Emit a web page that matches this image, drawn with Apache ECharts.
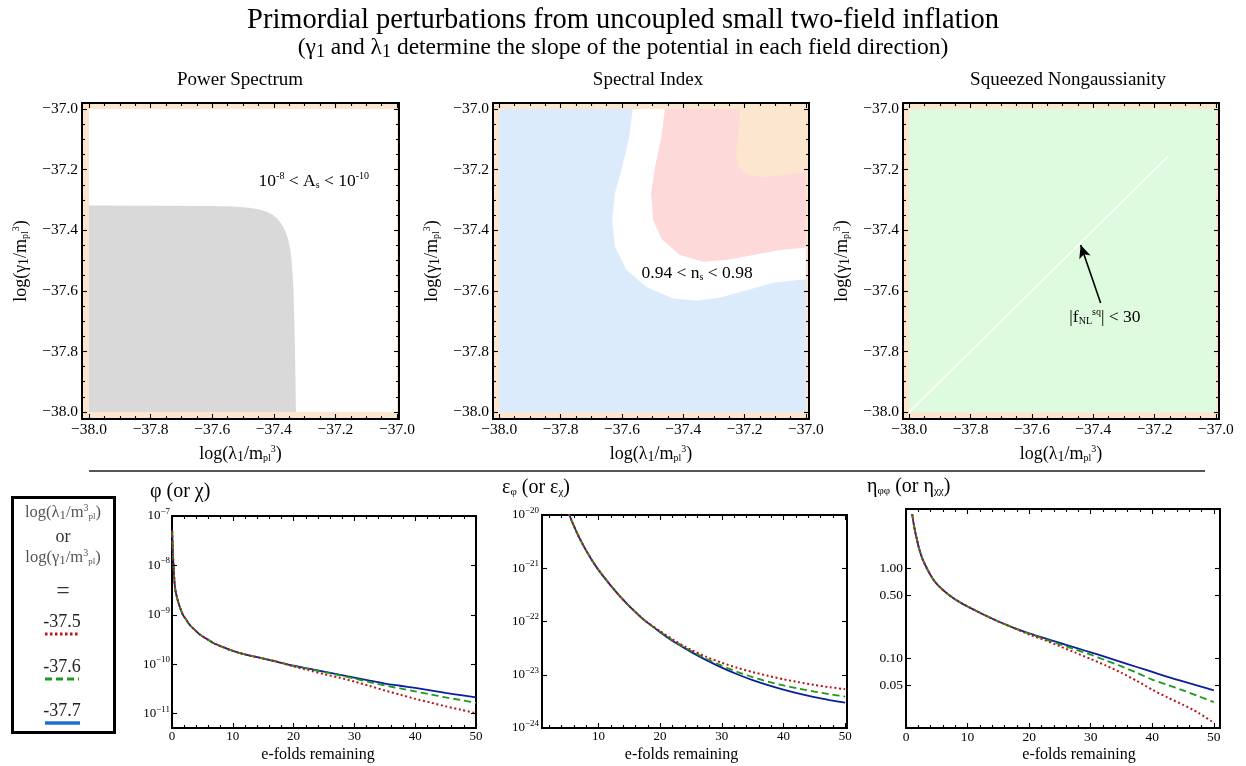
<!DOCTYPE html>
<html><head><meta charset="utf-8">
<script src="https://cdn.jsdelivr.net/npm/echarts@6/dist/echarts.min.js"></script>
<style>html,body{margin:0;padding:0;background:#fff}#c{width:1246px;height:766px}</style>
</head><body><div id="c"></div><script>
// ---------------- DATA ----------------
// top row: parameter plane log(lambda1/mpl^3) vs log(gamma1/mpl^3)
const topMajorTicks = [-38.0, -37.8, -37.6, -37.4, -37.2, -37.0];
const topMinorTicks = [-37.95,-37.9,-37.85,-37.75,-37.7,-37.65,-37.55,-37.5,-37.45,-37.35,-37.3,-37.25,-37.15,-37.1,-37.05];
const dataSquare = [[-38,-38],[-37,-38],[-37,-37],[-38,-37]];
// Power spectrum: excluded (grey) region boundary
const psExcluded = [[-38,-38],[-38,-37.318],[-37.75,-37.319],[-37.60,-37.320],[-37.53,-37.322],[-37.48,-37.326],[-37.45,-37.331],
  [-37.425,-37.338],[-37.405,-37.348],[-37.39,-37.36],[-37.378,-37.375],[-37.368,-37.392],[-37.36,-37.41],[-37.353,-37.432],
  [-37.347,-37.46],[-37.343,-37.49],[-37.34,-37.53],[-37.337,-37.58],[-37.335,-37.64],[-37.332,-37.75],[-37.33,-37.87],[-37.328,-38]];
// Spectral index: contour edges
const nsLowerEdge = [[-37.565,-37.0],[-37.576,-37.09],[-37.601,-37.2],[-37.623,-37.278],[-37.632,-37.366],[-37.623,-37.454],
  [-37.585,-37.531],[-37.52,-37.587],[-37.433,-37.625],[-37.356,-37.633],[-37.28,-37.622],[-37.193,-37.598],[-37.107,-37.573],[-37.0,-37.562]];
const nsUpperEdge = [[-37.46,-37.0],[-37.471,-37.09],[-37.492,-37.19],[-37.505,-37.278],[-37.498,-37.366],[-37.47,-37.43],
  [-37.411,-37.482],[-37.335,-37.504],[-37.259,-37.498],[-37.172,-37.482],[-37.085,-37.465],[-37.0,-37.457]];
const nsHighEdge = [[-37.215,-37.0],[-37.221,-37.09],[-37.228,-37.146],[-37.221,-37.19],[-37.193,-37.217],[-37.139,-37.225],
  [-37.063,-37.217],[-37.0,-37.208]];
// Squeezed non-gaussianity: allowed line and arrow
const fnlLine = [[-38,-38],[-37.155,-37.155]];
const fnlArrow = [[-37.376,-37.64],[-37.441,-37.449]];
const psLabelPos = [-37.27,-37.24], nsLabelPos = [-37.355,-37.541], fnlLabelPos = [-37.362,-37.688];

// bottom row: e-folds remaining vs log10(quantity)
const efoldTicks = [0,10,20,30,40,50];
const efoldMinor = [2,4,6,8,12,14,16,18,22,24,26,28,32,34,36,38,42,44,46,48];
const phiN = [0.03,0.15,0.3,0.44,0.6,0.8,1.0,1.4,1.8,2.4,2.9,3.7,4.6,5.6,6.8,8.3,10,12,14.5,17,20,22.5,25,27.5,30,32.5,35,37.5,40,42.5,45,47.5,50];
const phiLogBlue  = [-7.3,-7.75,-8.12,-8.38,-8.53,-8.64,-8.73,-8.88,-9.0,-9.11,-9.2,-9.3,-9.4,-9.48,-9.57,-9.65,-9.73,-9.8,-9.87,-9.94,
  -10.03,-10.09,-10.15,-10.21,-10.27,-10.33,-10.39,-10.435,-10.48,-10.53,-10.58,-10.625,-10.67];
const phiLogGreen = [-7.3,-7.75,-8.12,-8.38,-8.53,-8.64,-8.73,-8.88,-9.0,-9.11,-9.2,-9.3,-9.4,-9.48,-9.57,-9.65,-9.73,-9.8,-9.87,-9.94,
  -10.035,-10.095,-10.16,-10.22,-10.29,-10.36,-10.43,-10.49,-10.55,-10.61,-10.67,-10.725,-10.78];
const phiLogRed   = [-7.3,-7.75,-8.12,-8.38,-8.53,-8.64,-8.73,-8.88,-9.0,-9.11,-9.2,-9.3,-9.4,-9.48,-9.57,-9.65,-9.73,-9.8,-9.87,-9.94,
  -10.045,-10.12,-10.2,-10.27,-10.35,-10.44,-10.53,-10.615,-10.7,-10.775,-10.85,-10.92,-10.99];
const phiYTicks = [-7,-8,-9,-10,-11];

const epsN = [5.0,5.3,5.6,6,6.5,7,7.5,8,9,10,11,12,13.5,15,17.5,20,22.5,25,27.5,30,32.5,35,37.5,40,42.5,45,47.5,50];
const epsLogBlue  = [-19.9,-20.0,-20.09,-20.2,-20.33,-20.45,-20.56,-20.665,-20.86,-21.03,-21.18,-21.325,-21.527,-21.71,-21.98,
  -22.2,-22.4,-22.57,-22.725,-22.865,-22.99,-23.1,-23.195,-23.28,-23.355,-23.42,-23.475,-23.525];
const epsLogGreen = [-19.9,-20.0,-20.09,-20.2,-20.33,-20.45,-20.56,-20.665,-20.86,-21.03,-21.18,-21.325,-21.527,-21.71,-21.98,
  -22.19,-22.385,-22.55,-22.7,-22.83,-22.945,-23.045,-23.13,-23.2,-23.26,-23.315,-23.365,-23.41];
const epsLogRed   = [-19.9,-20.0,-20.09,-20.2,-20.33,-20.45,-20.56,-20.665,-20.86,-21.03,-21.18,-21.325,-21.527,-21.71,-21.98,
  -22.18,-22.37,-22.53,-22.665,-22.775,-22.87,-22.95,-23.02,-23.085,-23.14,-23.19,-23.235,-23.27];
const epsYTicks = [-20,-21,-22,-23,-24];
const epsXTicks = [10,20,30,40,50];
const epsXMinor = [2,4,6,8,12,14,16,18,22,24,26,28,32,34,36,38,42,44,46,48];

const etaN = [1.0,1.25,1.5,1.8,2.05,2.5,2.9,3.4,4.0,4.7,5.5,6.5,7.7,9,10,12,13.7,15,17.5,20,22.5,25,27.5,30,32.5,35,37.5,40,42.5,45,47.5,50];
const etaLogBlue  = [0.60,0.49,0.40,0.31,0.235,0.135,0.065,-0.005,-0.08,-0.152,-0.212,-0.273,-0.335,-0.39,-0.427,-0.497,-0.553,-0.594,-0.665,
  -0.725,-0.78,-0.833,-0.885,-0.937,-0.99,-1.045,-1.1,-1.155,-1.21,-1.26,-1.31,-1.36];
const etaLogGreen = [0.60,0.49,0.40,0.31,0.235,0.135,0.065,-0.005,-0.08,-0.152,-0.212,-0.273,-0.335,-0.39,-0.427,-0.497,-0.553,-0.594,-0.665,
  -0.73,-0.79,-0.848,-0.905,-0.963,-1.028,-1.093,-1.165,-1.24,-1.30,-1.36,-1.425,-1.49];
const etaLogRed   = [0.60,0.49,0.40,0.31,0.235,0.135,0.065,-0.005,-0.08,-0.152,-0.212,-0.273,-0.335,-0.39,-0.427,-0.497,-0.553,-0.594,-0.665,
  -0.74,-0.80,-0.87,-0.94,-1.011,-1.085,-1.165,-1.255,-1.352,-1.44,-1.52,-1.61,-1.72];
const etaTickValues = [1, 0.5, 0.1, 0.05];

const legendLabels = ['-37.5','-37.6','-37.7'];

// ---------------- STYLE ----------------
const SERIF = "'Liberation Serif', 'DejaVu Serif', serif";
const C_PEACH = '#fde6cf', C_PINK = '#fdd9d9', C_BLUE = '#dcebfb', C_GREEN = '#dffbdf', C_GRAY = '#d9d9d9';
const C_B = '#0c1f9c', C_G = '#1c9a1c', C_R = '#b8141a';

function richSet(base, fill) {
  fill = fill || '#000';
  return {
    s: {fontFamily: SERIF, fontSize: Math.round(base*0.78), color:fill, padding:[Math.round(base*0.35),0,0,0]},
    p: {fontFamily: SERIF, fontSize: Math.round(base*0.55), color:fill, padding:[Math.round(base*0.45),0,0,0]},
    u: {fontFamily: SERIF, fontSize: Math.round(base*0.58), color:fill, padding:[0,0,Math.round(base*0.6),0]}
  };
}

const grids = [
  {left:82,  top:103, width:317, height:316, backgroundColor:C_PEACH},
  {left:493, top:103, width:316, height:316, backgroundColor:C_PEACH},
  {left:903, top:103, width:316, height:316, backgroundColor:C_PEACH},
  {left:172, top:516, width:304, height:212, backgroundColor:'#fff'},
  {left:542, top:515, width:305, height:213, backgroundColor:'#fff'},
  {left:906, top:509, width:314, height:219, backgroundColor:'#fff'}
].map(g => Object.assign({show:true, borderColor:'#000', borderWidth:2, outerBoundsMode:'none', containLabel:false}, g));

const xAxes = [], yAxes = [];
function addAxes(g, c) {
  const common = {gridIndex:g, type:'value', axisLine:{show:false, onZero:false}, splitLine:{show:false}, z:10, silent:true, axisPointer:{show:false}};
  const res = {};
  [['x', xAxes, ['bottom','top']], ['y', yAxes, ['left','right']]].forEach(([d, arr, poss]) => {
    res[d] = arr.length;
    poss.forEach((pos, pi) => {
      [[c[d+'Major'], c.majorLen || 5, true], [c[d+'Minor'], c.minorLen || 3, false]].forEach(([vals, len, major]) => {
        if (!vals || !vals.length) return;
        const ax = Object.assign({}, common, {min:c[d+'Min'], max:c[d+'Max'], position:pos,
          axisTick:{show:true, inside:true, length:len, customValues:vals, lineStyle:{color:'#000', width:1.1}},
          axisLabel:{show:false}});
        if (pi === 0 && major) {
          ax.axisLabel = {show:true, customValues:c[d+'LabelVals'] || vals, formatter:c[d+'Fmt'], margin:c[d+'Margin'],
            color:'#000', fontFamily:SERIF, fontSize:c.labelSize, rich:c.labelRich};
          if (c[d+'Name']) {
            Object.assign(ax, {name:c[d+'Name'], nameLocation:'middle', nameGap:c[d+'NameGap'],
              nameRotate: d === 'y' ? 90 : 0,
              nameTextStyle:{fontFamily:SERIF, fontSize:c.nameSize, color:'#000', rich:richSet(c.nameSize), padding:c[d+'NamePad'] || 0}});
          }
        }
        arr.push(ax);
      });
    });
  });
  return res;
}

const minusFmt = v => '\u2212' + Math.abs(v).toFixed(1);
const lambdaName = 'log(λ{s|1}/m{p|pl}{u|3})';
const gammaName = 'log(γ{s|1}/m{p|pl}{u|3})';
function topCfg(xMin, xMax) {
  return {xMin, xMax, yMin:-38.023, yMax:-36.98, xMajor:topMajorTicks, xMinor:topMinorTicks, yMajor:topMajorTicks, yMinor:topMinorTicks,
    xFmt:minusFmt, yFmt:minusFmt, xMargin:3, yMargin:4, labelSize:15.5, xName:lambdaName, yName:gammaName,
    xNameGap:25, yNameGap:50, nameSize:18};
}
const A1 = addAxes(0, topCfg(-38.0227, -36.9935));
const A2 = addAxes(1, topCfg(-38.0205, -36.990));
const A3 = addAxes(2, topCfg(-38.0205, -36.990));

const supRich = {
  b: {fontFamily:SERIF, fontSize:13, color:'#000'},
  e: {fontFamily:SERIF, fontSize:9, color:'#000', padding:[0,0,9,0]}
};
const powFmt = v => '{b|10}{e|\u2212' + Math.round(Math.abs(v)) + '}';
const botName = 'e-folds remaining';
const B1 = addAxes(3, {xMin:0, xMax:50, yMin:-11.29, yMax:-7, xMajor:efoldTicks, xMinor:efoldMinor, yMajor:phiYTicks,
  xFmt:v => String(v), yFmt:powFmt, xMargin:2, yMargin:2, labelSize:13, labelRich:supRich,
  xName:botName, xNameGap:19, nameSize:16, xNamePad:[0,12,0,0]});
const B2 = addAxes(4, {xMin:0.85, xMax:50.3, yMin:-24, yMax:-20, xMajor:epsXTicks, xMinor:epsXMinor, yMajor:epsYTicks,
  xFmt:v => String(v), yFmt:powFmt, xMargin:2, yMargin:3, labelSize:13, labelRich:supRich,
  xName:botName, xNameGap:19, nameSize:16, xNamePad:[0,26,0,0]});
const B3 = addAxes(5, {xMin:0, xMax:51, yMin:-1.778, yMax:0.656, xMajor:efoldTicks, xMinor:efoldMinor, yMajor:etaTickValues.map(Math.log10),
  xFmt:v => String(v), yFmt:v => Math.pow(10, v).toFixed(2), xMargin:2, yMargin:3, labelSize:13.5,
  xName:botName, xNameGap:19, nameSize:16, xNamePad:[0,0,0,32]});

// ---------------- SERIES ----------------
function region(A, pts, fill, z) {
  return {type:'custom', xAxisIndex:A.x, yAxisIndex:A.y, silent:true, z:z, data:[pts[0]],
    renderItem:(p, api) => ({type:'polygon', shape:{points:pts.map(q => api.coord(q))}, style:{fill:fill}})};
}
function note(A, pos, text, size) {
  return {type:'custom', xAxisIndex:A.x, yAxisIndex:A.y, silent:true, z:6, data:[pos],
    renderItem:(p, api) => { const c = api.coord(pos); return {type:'text', x:c[0], y:c[1],
      style:{text:text, fontFamily:SERIF, fontSize:size, fill:'#000', align:'center', verticalAlign:'middle',
        textAlign:'center', textVerticalAlign:'middle', rich:richSet(size)}}; }};
}
function curve(A, xs, ys, color, type, width) {
  return {type:'line', xAxisIndex:A.x, yAxisIndex:A.y, data:xs.map((x, i) => [x, ys[i]]), showSymbol:false, symbol:'none',
    smooth:0.25, clip:true, silent:true, z:3, lineStyle:{color:color, width:width, type:type, cap:'butt'}};
}
const DOT = [2, 2.6], DASH = [7, 4];

const series = [
  region(A1, dataSquare, '#ffffff', 1),
  region(A1, psExcluded, C_GRAY, 2),
  note(A1, psLabelPos, '10{u|-8} < A{p|s} < 10{u|-10}', 17.5),

  region(A2, dataSquare, C_BLUE, 1),
  region(A2, nsLowerEdge.concat([[-37,-37]]), '#ffffff', 2),
  region(A2, nsUpperEdge.concat([[-37,-37]]), C_PINK, 3),
  region(A2, nsHighEdge.concat([[-37,-37]]), C_PEACH, 4),
  note(A2, nsLabelPos, '0.94 < n{p|s} < 0.98', 17.5),

  region(A3, dataSquare, C_GREEN, 1),
  {type:'line', xAxisIndex:A3.x, yAxisIndex:A3.y, data:fnlLine, showSymbol:false, symbol:'none', silent:true, z:3,
    lineStyle:{color:'#ffffff', width:1.6},
    markLine:{silent:true, symbol:['none','arrow'], symbolSize:[9, 13], label:{show:false}, animation:false,
      lineStyle:{color:'#000', width:1.6, type:'solid'},
      data:[[{coord:fnlArrow[0]}, {coord:fnlArrow[1]}]]}},
  note(A3, fnlLabelPos, '|f{p|NL}{u|sq}| < 30', 17.5),

  curve(B1, phiN, phiLogBlue, C_B, 'solid', 1.8),
  curve(B1, phiN, phiLogGreen, C_G, DASH, 1.8),
  curve(B1, phiN, phiLogRed, C_R, DOT, 2),
  curve(B2, epsN, epsLogBlue, C_B, 'solid', 1.8),
  curve(B2, epsN, epsLogGreen, C_G, DASH, 1.8),
  curve(B2, epsN, epsLogRed, C_R, DOT, 2),
  curve(B3, etaN, etaLogBlue, C_B, 'solid', 1.8),
  curve(B3, etaN, etaLogGreen, C_G, DASH, 1.8),
  curve(B3, etaN, etaLogRed, C_R, DOT, 2)
];

// ---------------- GRAPHIC (titles, legend box) ----------------
function txt(x, y, text, size, opts) {
  opts = opts || {};
  const fill = opts.fill || '#000';
  return {type:'text', x:x, y:y, silent:true, z:20, style:{text:text, fontFamily:SERIF, fontSize:size, fill:fill,
    align:opts.align || 'center', verticalAlign:'middle', textAlign:opts.align || 'center', textVerticalAlign:'middle',
    rich:richSet(size, fill)}};
}
const legendY = [622, 667, 711], legendLineY = [634, 679, 723];
const graphic = [
  txt(623, 21, 'Primordial perturbations from uncoupled small two-field inflation', 28.5),
  txt(623, 48, '(γ{s|1} and λ{s|1} determine the slope of the potential in each field direction)', 23.5),
  txt(240, 80, 'Power Spectrum', 19),
  txt(648, 80, 'Spectral Index', 19),
  txt(1068, 80, 'Squeezed Nongaussianity', 19),
  {type:'line', silent:true, shape:{x1:89, y1:471, x2:1205, y2:471}, style:{stroke:'#555', lineWidth:2}},
  txt(150, 492, 'φ (or χ)', 20, {align:'left'}),
  txt(502, 488, 'ε{p|φ} (or ε{p|χ})', 20, {align:'left'}),
  txt(867, 487, 'η{p|φφ} (or η{p|χχ})', 20, {align:'left'}),
  {type:'rect', silent:true, z:15, shape:{x:12.5, y:497.5, width:102, height:235}, style:{fill:'#fff', stroke:'#000', lineWidth:3}},
  txt(63, 513, 'log(λ{s|1}/m{u|3}{p|pl})', 16.5, {fill:'#555'}),
  txt(63, 537, 'or', 18, {fill:'#333'}),
  txt(63, 558, 'log(γ{s|1}/m{u|3}{p|pl})', 16.5, {fill:'#555'}),
  txt(63, 592, '=', 24, {fill:'#333'}),
  txt(62, legendY[0], legendLabels[0], 18, {fill:'#222'}),
  txt(62, legendY[1], legendLabels[1], 18, {fill:'#222'}),
  txt(62, legendY[2], legendLabels[2], 18, {fill:'#222'}),
  {type:'line', silent:true, z:20, shape:{x1:45, y1:legendLineY[0], x2:80, y2:legendLineY[0]}, style:{stroke:C_R, lineWidth:3, lineDash:[2.5,2.5]}},
  {type:'line', silent:true, z:20, shape:{x1:45, y1:legendLineY[1], x2:79, y2:legendLineY[1]}, style:{stroke:C_G, lineWidth:3, lineDash:[7,4]}},
  {type:'line', silent:true, z:20, shape:{x1:45, y1:legendLineY[2], x2:80, y2:legendLineY[2]}, style:{stroke:'#1f6fd0', lineWidth:3.5}}
];

const chart = echarts.init(document.getElementById('c'), null, {width:1246, height:766});
chart.setOption({
  animation:false,
  backgroundColor:'#fff',
  textStyle:{fontFamily:SERIF},
  grid:grids, xAxis:xAxes, yAxis:yAxes, series:series, graphic:graphic
});
</script></body></html>
